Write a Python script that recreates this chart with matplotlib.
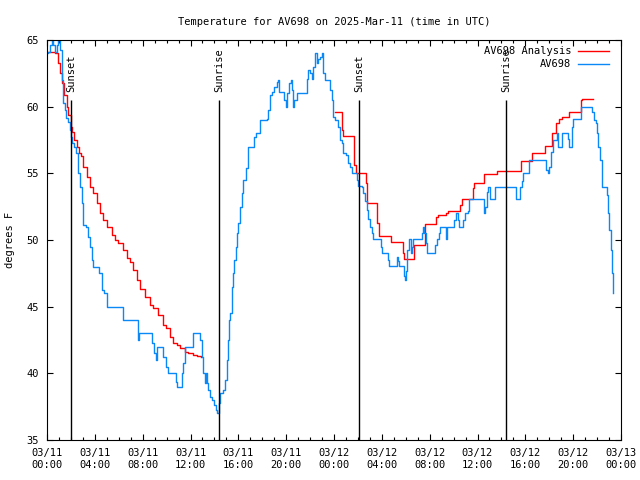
import numpy as np
import matplotlib
matplotlib.use('Agg')
import matplotlib.pyplot as plt
import matplotlib.dates as mdates

plt.rcParams['font.family'] = 'DejaVu Sans Mono'
plt.rcParams['font.size'] = 7

start = np.datetime64('2025-03-11T00:00')

# station observations (hours since 03/11 00:00 UTC, deg F)
obs_hours = [0.00, 0.08, 0.25, 0.42, 0.50, 0.67, 0.84, 0.92, 1.09, 1.25, 1.30, 1.34, 1.51, 1.59,
             1.76, 1.92, 2.01, 2.09, 2.26, 2.43, 2.59, 2.63, 2.76, 2.93, 3.01, 3.26, 3.43, 3.60,
             3.76, 3.81, 4.27, 4.35, 4.60, 4.77, 5.02, 6.19, 6.36, 7.44, 7.61, 7.69, 8.61, 8.78,
             8.95, 9.12, 9.20, 9.62, 9.70, 9.95, 10.12, 10.70, 10.79, 10.87, 11.12, 11.29, 11.37,
             11.54, 12.13, 12.21, 12.63, 12.80, 12.96, 13.05, 13.21, 13.30, 13.38, 13.46, 13.63,
             13.80, 13.97, 14.13, 14.22, 14.38, 14.47, 14.72, 14.89, 15.05, 15.14, 15.22, 15.30,
             15.47, 15.55, 15.64, 15.81, 15.89, 15.97, 16.14, 16.31, 16.39, 16.64, 16.81, 17.23,
             17.31, 17.48, 17.73, 17.81, 18.40, 18.48, 18.65, 18.82, 18.98, 19.23, 19.32, 19.40,
             19.74, 19.82, 19.99, 20.07, 20.24, 20.41, 20.49, 20.57, 20.66, 20.91, 21.58, 21.74,
             21.83, 21.99, 22.16, 22.25, 22.41, 22.58, 22.66, 22.83, 23.00, 23.08, 23.25, 23.50,
             23.67, 23.83, 23.92, 24.09, 24.34, 24.50, 24.67, 24.75, 25.01, 25.17, 25.34, 25.51,
             25.93, 26.01, 26.34, 26.43, 26.59, 26.76, 26.85, 27.01, 27.18, 27.26, 27.85, 27.93,
             28.02, 28.43, 28.52, 28.60, 29.10, 29.27, 29.35, 29.44, 29.77, 29.81, 29.86, 29.94,
             30.02, 30.11, 30.27, 30.44, 30.52, 30.61, 31.19, 31.36, 31.44, 31.53, 31.70, 31.78,
             32.28, 32.45, 32.62, 32.78, 32.87, 33.28, 33.37, 33.45, 33.95, 34.04, 34.20, 34.37,
             34.46, 34.71, 34.79, 34.96, 35.21, 35.29, 36.46, 36.55, 36.63, 36.80, 36.88, 37.05,
             37.38, 37.46, 39.06, 39.22, 39.39, 39.56, 39.72, 39.81, 40.23, 40.31, 41.56, 41.73,
             41.90, 41.98, 42.15, 42.32, 42.65, 42.73, 42.90, 43.07, 43.40, 43.57, 43.65, 43.82,
             43.91, 43.99, 44.41, 44.66, 45.41, 45.58, 45.75, 45.91, 46.00, 46.08, 46.25, 46.42,
             46.75, 46.83, 46.92, 47.00, 47.17, 47.25, 47.33]
obs_temp = [64.0, 64.1, 64.6, 65.0, 64.6, 64.1, 64.6, 65.0, 64.25, 62.0, 60.9, 60.25, 59.75, 59.15,
            58.85, 58.25, 57.7, 57.3, 57.0, 56.5, 55.8, 55.0, 54.0, 52.8, 51.1, 51.0, 50.2, 49.5,
            48.5, 48.0, 48.0, 47.5, 46.25, 46.0, 45.0, 45.0, 44.0, 44.0, 42.5, 43.0, 43.0, 42.3,
            41.5, 41.0, 42.0, 42.0, 41.2, 40.5, 40.0, 40.0, 39.35, 39.0, 39.0, 40.0, 40.75,
            42.0, 42.0, 43.0, 43.0, 42.5, 41.2, 40.0, 39.25, 40.0, 39.3, 38.75, 38.2,
            38.0, 37.6, 37.25, 37.0, 37.8, 38.5, 38.75, 39.5, 41.0, 42.5, 44.0, 44.5,
            46.5, 47.5, 48.5, 49.5, 50.5, 51.3, 52.5, 53.5, 54.5, 55.4, 57.0, 57.0,
            57.75, 58.0, 58.0, 59.0, 59.1, 59.75, 60.9, 61.1, 61.5, 61.85, 62.0, 61.1,
            61.1, 60.5, 60.0, 61.0, 61.75, 62.0, 61.25, 60.0, 60.5, 61.0, 61.0, 62.1,
            62.75, 62.5, 62.1, 63.0, 64.0, 63.25, 63.6, 63.7, 64.0, 62.5, 62.0, 62.0,
            61.25, 60.5, 59.25, 59.0, 58.5, 57.5, 57.3, 56.5, 56.4, 55.75, 55.5, 55.0,
            54.5, 54.05, 54.0, 53.5, 52.9, 52.25, 51.6, 51.0, 50.5, 50.1, 50.1, 49.5,
            49.0, 49.0, 48.5, 48.05, 48.05, 48.75, 48.4, 48.05, 48.05, 47.7, 47.3, 47.0,
            47.7, 49.25, 50.1, 49.0, 49.5, 50.1, 50.1, 50.5, 51.0, 50.5, 49.75, 49.0,
            49.0, 49.6, 50.1, 50.5, 51.0, 51.0, 50.1, 51.0, 51.0, 51.5, 52.0, 51.5,
            51.0, 51.0, 51.5, 52.0, 52.2, 53.1, 53.1, 52.0, 52.5, 53.6, 54.0, 53.1,
            53.1, 54.0, 54.0, 53.1, 53.1, 54.0, 54.4, 55.0, 55.0, 56.0, 56.0, 55.25,
            55.0, 55.5, 56.6, 57.5, 58.0, 57.0, 57.0, 58.0, 58.0, 57.6, 57.0, 57.0,
            58.5, 59.1, 59.1, 60.0, 60.0, 59.6, 59.0, 58.8, 58.0, 57.0, 56.0, 54.0,
            54.0, 53.4, 52.0, 50.75, 49.25, 47.5, 46.0]

# analysis, first night
ana1_hours = [0.08, 0.67, 0.92, 1.09, 1.25, 1.42, 1.67, 1.76, 2.01, 2.09, 2.26, 2.51, 2.68, 2.84,
              3.01, 3.35, 3.60, 3.85, 4.18, 4.43, 4.68, 5.02, 5.44, 5.69, 5.94, 6.36, 6.69, 6.94,
              7.19, 7.53, 7.78, 8.20, 8.61, 8.86, 9.28, 9.70, 9.95, 10.29, 10.54, 10.87, 11.12,
              11.54, 11.79, 12.21, 12.54, 12.88]
ana1_temp = [64.1, 64.0, 63.3, 62.5, 61.75, 60.9, 60.0, 59.4, 58.5, 58.1, 57.5, 57.0, 56.5, 56.3,
             55.5, 54.75, 54.0, 53.5, 52.75, 52.0, 51.5, 51.0, 50.4, 50.0, 49.75, 49.25, 48.65, 48.35,
             47.75, 47.0, 46.3, 45.7, 45.1, 44.9, 44.4, 43.6, 43.4, 42.7, 42.3, 42.1, 41.9,
             41.6, 41.5, 41.4, 41.3, 41.2]

# analysis, second night
ana2_hours = [24.09, 24.63, 24.75, 25.67, 25.84, 26.72, 26.80, 27.64, 27.77, 28.73, 29.73, 29.81,
              30.69, 31.61, 31.65, 32.57, 32.70, 33.37, 33.54, 34.54, 34.71, 35.58, 35.71, 36.59,
              37.63, 39.64, 40.56, 41.65, 42.23, 42.57, 42.82, 43.07, 43.65, 44.62, 44.74, 45.66]
ana2_temp = [59.6, 58.25, 57.8, 55.6, 55.0, 54.3, 52.8, 51.3, 50.3, 49.85, 49.0, 48.6,
             49.6, 50.0, 51.2, 51.7, 51.9, 52.0, 52.2, 52.6, 53.1, 53.9, 54.3, 54.95,
             55.2, 55.9, 56.5, 57.05, 58.0, 58.8, 59.1, 59.2, 59.6, 60.5, 60.6, 60.6]

sun_hours = [2.01, 14.41, 26.12, 38.39]
sun_labels = ['Sunset', 'Sunrise', 'Sunset', 'Sunrise']


def to_time(hours):
    return start + np.round(np.array(hours) * 60).astype('timedelta64[m]')


red = '#ff0000'
blue = '#0a88f5'

fig, ax = plt.subplots(figsize=(6.4, 4.8), dpi=100)
fig.subplots_adjust(left=47/640, right=621/640, bottom=40/480, top=440/480)

ax.plot(to_time(ana1_hours), ana1_temp, color=red, lw=1, drawstyle='steps-post',
        label='AV698 Analysis')
ax.plot(to_time(ana2_hours), ana2_temp, color=red, lw=1, drawstyle='steps-post')
ax.plot(to_time(obs_hours), obs_temp, color=blue, lw=1, drawstyle='steps-post', label='AV698')

for t, lab in zip(to_time(sun_hours), sun_labels):
    ax.vlines(t, 35, 60.5, color='black', lw=1)
    ax.text(t, 61.1, lab, rotation=90, ha='center', va='bottom', fontsize=7.5)

ax.set_xlim(start, start + np.timedelta64(48, 'h'))
ax.set_ylim(35, 65)
ax.set_yticks(np.arange(35, 66, 5))
ax.xaxis.set_major_locator(mdates.HourLocator(byhour=range(0, 24, 4)))
ax.xaxis.set_minor_locator(mdates.HourLocator())
ax.xaxis.set_major_formatter(mdates.DateFormatter('%m/%d\n%H:%M'))
ax.tick_params(which='both', direction='in', top=True, right=True, labelsize=7.5)
ax.tick_params(which='major', length=4.5, width=0.8, pad=6)
ax.tick_params(which='minor', length=2.5, width=0.8)

ax.set_title('Temperature for AV698 on 2025-Mar-11 (time in UTC)', fontsize=7.5, pad=11)
ax.set_ylabel('degrees F', fontsize=7.5, labelpad=8)

ax.legend(loc='upper right', bbox_to_anchor=(0.99, 1.0), frameon=False, markerfirst=False,
          fontsize=7.5, handlelength=3.0, handletextpad=0.6, labelspacing=0.3, borderaxespad=0.2)

fig.savefig('out.png', dpi=100)
